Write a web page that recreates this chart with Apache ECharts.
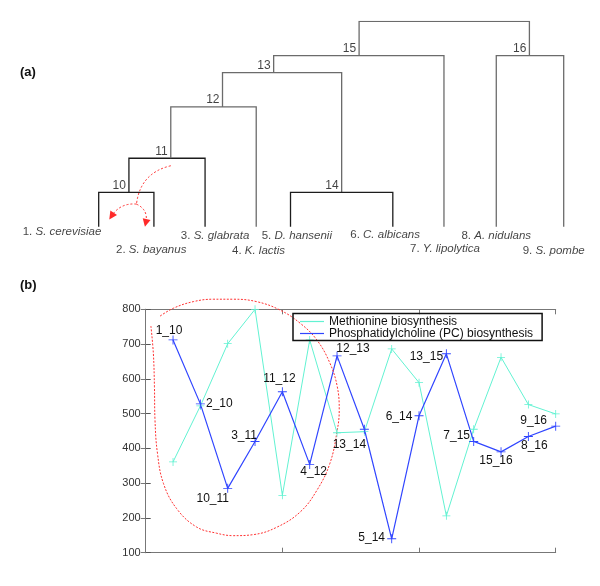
<!DOCTYPE html>
<html>
<head>
<meta charset="utf-8">
<script src="https://cdn.jsdelivr.net/npm/echarts@6/dist/echarts.min.js"></script>
<style>
html, body { margin: 0; padding: 0; background: #fff; }
#chart { width: 600px; height: 586px; }
</style>
</head>
<body>
<div id="chart"></div>
<script>
// ---- (a) tree data ----
const leafNames = ['S. cerevisiae', 'S. bayanus', 'S. glabrata', 'K. lactis', 'D. hansenii',
  'C. albicans', 'Y. lipolytica', 'A. nidulans', 'S. pombe']
const leafPos = [1, 1.95, 2.83, 3.71, 4.30, 6.06, 6.94, 7.84, 9]
// internal nodes 10..17 (17 = root, unlabeled)
const nodeIds = [10, 11, 12, 13, 14, 15, 16, 17]
const nodeChildren = [[1, 2], [10, 3], [11, 4], [12, 14], [5, 6], [13, 7], [8, 9], [15, 16]]
const nodePos = [1.52, 2.24, 3.13, 4.01, 5.18, 5.48, 8.41, 6.9]
const nodeHeight = [10, 20, 35, 45, 10, 50, 50, 60]

// ---- (b) line data ----
const xIndex = [1, 2, 3, 4, 5, 6, 7, 8, 9, 10, 11, 12, 13, 14, 15]
const metValues = [361, 522, 701, 800, 265, 712, 445, 448, 686, 589, 206, 455, 662, 526, 499]
const pcValues = [712, 528, 285, 420, 563, 354, 666, 455, 140, 494, 672, 420, 390, 434, 464]
const pcLabels = ['1_10', '2_10', '10_11', '3_11', '11_12', '4_12', '12_13', '13_14',
  '5_14', '6_14', '13_15', '7_15', '15_16', '8_16', '9_16']
const yTicks = [100, 800, 100] // min, max, step
const metName = 'Methionine biosynthesis'
const pcName = 'Phosphatidylcholine (PC) biosynthesis'

// hand drawn red loop around the first cluster (data coords)
const loopPts = [[0.19, 752], [0.28, 673], [0.32, 577], [0.34, 482], [0.43, 386], [0.65, 299],
  [1.13, 227], [1.86, 174], [2.6, 156], [3.21, 149], [3.94, 152], [4.79, 173], [5.65, 217],
  [6.26, 279], [6.74, 357], [7.01, 453], [7.08, 510], [7.01, 577], [6.74, 645], [6.26, 712],
  [5.65, 760], [4.91, 798], [4.06, 822], [3.21, 829], [2.47, 829], [1.74, 822], [1.01, 803],
  [0.5, 779]]
// red arrow in (a), tree coords
const arrowStem = [[2.24, 17.8], [1.65, 6.6]]
const arrowLeft = [[1.65, 6.6], [1.22, 3.1]]
const arrowRight = [[1.65, 6.6], [1.81, 1.1]]

// label placement (px offsets)
const pcLabelOffset = [[-4, -9], [19, 0], [-15, 10], [-11, -6], [-3, -13], [4, 7], [16, -7], [-15, 15],
  [-20, -1], [-20, 1], [-20, 3], [-17, -6], [-5, 9], [6, 9], [-22, -5]]
const leafLabelOffset = [[-36.7, 5], [-2.7, 23.3], [10, 9.3], [2.3, 24], [6.3, 9.3], [-7.7, 8.3],
  [1, 22], [0, 9.3], [-10, 24]]
const darkNodes = [10, 11, 14]

const FONT = "'Liberation Sans', Arial, Helvetica, sans-serif"
const chart = echarts.init(document.getElementById('chart'))

function nodeX(id) {
  return id <= 9 ? leafPos[id - 1] : nodePos[nodeIds.indexOf(id)]
}
function nodeY(id) {
  return id <= 9 ? 0 : nodeHeight[nodeIds.indexOf(id)]
}

// build the dendrogram U shapes
const treeLines = nodeIds.map((id, i) => {
  const [a, b] = nodeChildren[i]
  const h = nodeHeight[i]
  return {
    coords: [[nodeX(a), nodeY(a)], [nodeX(a), h], [nodeX(b), h], [nodeX(b), nodeY(b)]],
    lineStyle: { color: darkNodes.includes(id) ? '#1c1c1c' : '#6b6b6b' }
  }
})

const nodeLabelData = nodeIds.filter(id => id !== 17).map(id => ({
  value: [nodeX(id), nodeY(id)],
  label: { formatter: String(id) }
}))

const leafLabelData = leafNames.map((n, i) => ({
  value: [leafPos[i], 0],
  label: {
    formatter: '{n|' + (i + 1) + '. }{i|' + n + '}',
    offset: leafLabelOffset[i]
  }
}))

const pcData = pcValues.map((v, i) => ({
  value: [xIndex[i], v],
  label: { formatter: pcLabels[i], offset: pcLabelOffset[i] }
}))

const plusSymbol = 'path://M-0.1,-1H0.1V-0.1H1V0.1H0.1V1H-0.1V0.1H-1V-0.1H-0.1Z'
const axisGray = '#777'

const option = {
  animation: false,
  textStyle: { fontFamily: FONT },
  title: [
    { text: '(a)', left: 15, top: 61, textStyle: { fontSize: 13, fontWeight: 'bold', color: '#111', fontFamily: FONT } },
    { text: '(b)', left: 15, top: 274, textStyle: { fontSize: 13, fontWeight: 'bold', color: '#111', fontFamily: FONT } }
  ],
  legend: {
    data: [metName, pcName],
    orient: 'vertical',
    left: 293,
    top: 313.5,
    icon: 'rect',
    itemWidth: 24,
    itemHeight: 1.2,
    itemGap: 0,
    padding: [2, 9, 1, 7],
    borderColor: '#111',
    borderWidth: 1.5,
    selectedMode: false,
    textStyle: { fontSize: 12, color: '#111', lineHeight: 12, fontFamily: FONT }
  },
  grid: [
    { left: 98.7, right: 36.3, top: 21.3, bottom: 359.3 },
    { left: 145.7, right: 44.3, top: 309.3, bottom: 33.3 }
  ],
  xAxis: [
    { gridIndex: 0, type: 'value', min: 1, max: 9, show: false },
    {
      gridIndex: 1, type: 'value', min: 0, max: 15, interval: 5, position: 'bottom',
      axisLine: { lineStyle: { color: axisGray, width: 1 } },
      axisTick: { inside: true, length: 5, lineStyle: { color: axisGray } },
      axisLabel: { show: false }, splitLine: { show: false }
    },
    {
      gridIndex: 1, type: 'value', min: 0, max: 15, interval: 5, position: 'top',
      axisLine: { lineStyle: { color: axisGray, width: 1 } },
      axisTick: { inside: true, length: 5, lineStyle: { color: axisGray } },
      axisLabel: { show: false }, splitLine: { show: false }
    }
  ],
  yAxis: [
    { gridIndex: 0, type: 'value', min: 0, max: 60, show: false },
    {
      gridIndex: 1, type: 'value', min: yTicks[0], max: yTicks[1], interval: yTicks[2], position: 'left',
      axisLine: { show: true, lineStyle: { color: '#555', width: 1 } },
      axisTick: { show: true, inside: true, length: 5, lineStyle: { color: '#555' } },
      axisLabel: { color: '#333', fontSize: 11, margin: 5, fontFamily: FONT },
      splitLine: { show: false }
    },
    {
      gridIndex: 1, type: 'value', min: yTicks[0], max: yTicks[1], interval: yTicks[2], position: 'right',
      axisLine: { show: true, lineStyle: { color: axisGray, width: 1 } },
      axisTick: { show: true, inside: true, length: 5, lineStyle: { color: axisGray } },
      axisLabel: { show: false }, splitLine: { show: false }
    }
  ],
  series: [
    {
      type: 'lines', coordinateSystem: 'cartesian2d', xAxisIndex: 0, yAxisIndex: 0,
      polyline: true, silent: true,
      lineStyle: { width: 1.3, opacity: 1 },
      data: treeLines
    },
    {
      type: 'scatter', xAxisIndex: 0, yAxisIndex: 0, symbolSize: 0, silent: true,
      label: {
        show: true, position: 'inside', align: 'right', verticalAlign: 'bottom', offset: [-3, -1],
        fontSize: 12, color: '#111', fontFamily: FONT
      },
      data: nodeLabelData
    },
    {
      type: 'scatter', xAxisIndex: 0, yAxisIndex: 0, symbolSize: 0, silent: true,
      label: {
        show: true, position: 'inside', align: 'center', verticalAlign: 'middle',
        rich: {
          n: { fontSize: 11.5, color: '#111', fontFamily: FONT },
          i: { fontSize: 11.5, color: '#111', fontStyle: 'italic', fontFamily: FONT }
        }
      },
      data: leafLabelData
    },
    {
      type: 'lines', coordinateSystem: 'cartesian2d', xAxisIndex: 0, yAxisIndex: 0, silent: true,
      symbol: 'none',
      lineStyle: { color: '#ff2a2a', width: 1, type: [2, 2], curveness: -0.35, opacity: 1 },
      data: [{ coords: arrowStem }]
    },
    {
      type: 'lines', coordinateSystem: 'cartesian2d', xAxisIndex: 0, yAxisIndex: 0, silent: true,
      symbol: ['none', 'triangle'], symbolSize: 8,
      lineStyle: { color: '#ff2a2a', width: 1, type: [2, 2], opacity: 1 },
      data: [
        { coords: arrowLeft, lineStyle: { curveness: -0.3 } },
        { coords: arrowRight, lineStyle: { curveness: 0.4 } }
      ]
    },
    {
      name: metName, type: 'line', xAxisIndex: 1, yAxisIndex: 1,
      data: metValues.map((v, i) => [xIndex[i], v]),
      symbol: plusSymbol, symbolSize: 8,
      itemStyle: { color: '#62f2d2' },
      lineStyle: { color: '#62f2d2', width: 1 }
    },
    {
      name: pcName, type: 'line', xAxisIndex: 1, yAxisIndex: 1,
      data: pcData,
      symbol: plusSymbol, symbolSize: 9,
      itemStyle: { color: '#3045ff' },
      lineStyle: { color: '#3045ff', width: 1.2 },
      label: {
        show: true, position: 'inside', align: 'center', verticalAlign: 'middle',
        fontSize: 12, color: '#111', fontFamily: FONT
      }
    },
    {
      type: 'line', xAxisIndex: 1, yAxisIndex: 1, silent: true, clip: false,
      data: loopPts, smooth: 0.4, symbol: 'none',
      lineStyle: { color: '#ff3030', width: 1, type: [2, 1.5] }
    }
  ]
}

chart.setOption(option)
</script>
</body>
</html>
